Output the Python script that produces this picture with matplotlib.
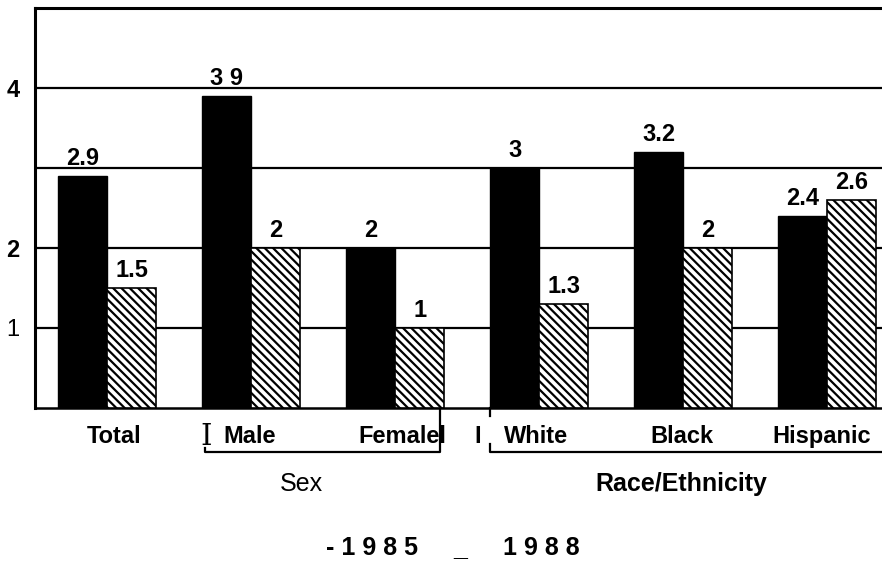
import matplotlib
matplotlib.use("Agg")
import matplotlib.pyplot as plt
import matplotlib.transforms as mtransforms
import numpy as np

plt.rcParams['font.family'] = ['Liberation Sans', 'DejaVu Sans']
plt.rcParams['hatch.linewidth'] = 1.6

# data
categories = ["Total", "Male", "Femalel", "White", "Black", "Hispanic"]
vals_1985 = [2.9, 3.9, 2.0, 3.0, 3.2, 2.4]
vals_1988 = [1.5, 2.0, 1.0, 1.3, 2.0, 2.6]
lab_1985 = ["2.9", "3 9", "2", "3", "3.2", "2.4"]
lab_1988 = ["1.5", "2", "1", "1.3", "2", "2.6"]
yticks = [1, 2, 4]
ytick_labels = ["1", "2", "4"]

fig = plt.figure(figsize=(8.82, 5.64), dpi=100)
ax = fig.add_axes([35 / 882, 1 - 408 / 564, 1 - 35 / 882, 400 / 564])

x = np.arange(len(categories))
w = 0.34
ax.bar(x - w / 2, vals_1985, w, color="black", edgecolor="black", zorder=3)
ax.bar(x + w / 2, vals_1988, w, color="white", edgecolor="black",
       hatch="\\\\\\\\", linewidth=1.2, zorder=3)

for xi, v, t in zip(x - w / 2, vals_1985, lab_1985):
    ax.text(xi, v + 0.08, t, ha="center", va="bottom", fontsize=17,
            fontweight="bold", zorder=4)
for xi, v, t in zip(x + w / 2, vals_1988, lab_1988):
    ax.text(xi, v + 0.08, t, ha="center", va="bottom", fontsize=17,
            fontweight="bold", zorder=4)

# horizontal rules
for g in [1, 2, 3, 4]:
    ax.axhline(g, color="black", linewidth=1.6, zorder=1)

ax.set_xlim(-0.5, 5.38)
ax.set_ylim(0, 5)
ax.set_yticks(yticks)
ax.set_yticklabels(ytick_labels, fontsize=17)
for lbl in ax.get_yticklabels():
    if lbl.get_text() != "1":
        lbl.set_fontweight("bold")
ax.tick_params(axis="y", length=0, pad=11)
ax.set_xticks([])

for s in ["left", "top"]:
    ax.spines[s].set_linewidth(2.2)
ax.spines["bottom"].set_linewidth(1.8)
ax.spines["right"].set_visible(False)

# category labels and group brackets below the axis
tr = mtransforms.blended_transform_factory(ax.transData, ax.transAxes)
label_x = [0.05, 0.99, 2.05, 2.98, 3.99, 4.96]
for c, xc in zip(categories, label_x):
    ax.text(xc, -0.072, c, transform=tr, ha="center", va="center",
            fontsize=17, fontweight="bold", clip_on=False)
ax.text(0.69, -0.072, "I", transform=tr, ha="center", va="center",
        fontsize=21, family="DejaVu Serif", clip_on=False)
ax.text(2.57, -0.072, "I", transform=tr, ha="center", va="center",
        fontsize=17, fontweight="bold", clip_on=False)

yb = -0.11
ax.plot([0.68, 0.68, 2.31, 2.31], [yb + 0.01, yb, yb, 0], transform=tr,
        color="black", linewidth=1.6, clip_on=False)
ax.plot([2.66, 2.66, 5.38], [yb + 0.02, yb, yb], transform=tr,
        color="black", linewidth=1.6, clip_on=False)
ax.plot([2.66, 2.66], [0, -0.02], transform=tr,
        color="black", linewidth=1.6, clip_on=False)

ax.text(1.35, -0.19, "Sex", transform=tr, ha="center", va="center",
        fontsize=18, clip_on=False)
ax.text(3.99, -0.19, "Race/Ethnicity", transform=tr, ha="center",
        va="center", fontsize=18, fontweight="bold", clip_on=False)

# legend as it survives in the scan
ly = 1 - 548 / 564
fig.text(372 / 882, ly, "- 1 9 8 5", ha="center", va="center",
         fontsize=18, fontweight="bold")
fig.text(460 / 882, ly, "_", ha="center", va="center",
         fontsize=18, fontweight="bold")
fig.text(541 / 882, ly, "1 9 8 8", ha="center", va="center",
         fontsize=18, fontweight="bold")

fig.savefig("out.png", dpi=100)
